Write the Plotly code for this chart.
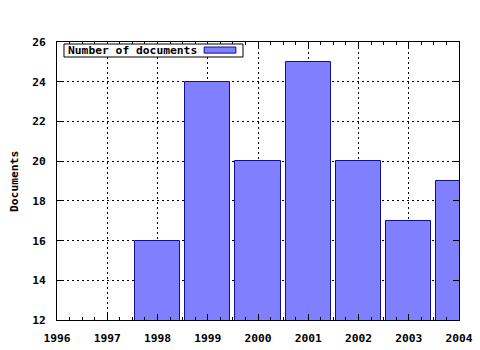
import plotly.graph_objects as go

years = [1998, 1999, 2000, 2001, 2002, 2003, 2004]
documents = [16, 24, 20, 25, 20, 17, 19]
x_ticks = [1996, 1997, 1998, 1999, 2000, 2001, 2002, 2003, 2004]
y_ticks = [12, 14, 16, 18, 20, 22, 24, 26]

FONT = dict(family="DejaVu Sans Mono", size=11.3, color="black", weight="bold")

fig = go.Figure()
fig.add_trace(go.Bar(
    x=years, y=documents, width=0.9,
    marker=dict(color="#8080ff", line=dict(color="#10108c", width=1)),
    name="Number of documents", showlegend=False,
))

axis_common = dict(
    showline=True, linecolor="black", linewidth=1, mirror="allticks",
    ticks="inside", ticklen=6, tickcolor="black", tickwidth=1,
    showgrid=True, gridcolor="black", gridwidth=1, griddash="2px,3px",
    zeroline=False, tickfont=FONT, automargin=False,
)

fig.update_xaxes(range=[1996, 2004], tickvals=x_ticks, ticktext=[str(v) for v in x_ticks],
                 ticklabelstandoff=7,
                 minor=dict(ticks="inside", ticklen=3, dtick=0.25, tick0=1996,
                            tickcolor="black", showgrid=False),
                 **axis_common)
fig.update_yaxes(range=[12, 26], tickvals=y_ticks, ticktext=[str(v) for v in y_ticks],
                 ticklabelstandoff=8, **axis_common)

# y-axis title
fig.add_annotation(xref="paper", yref="paper", x=-0.107, y=0.5, xanchor="center", yanchor="middle",
                   text="Documents", textangle=-90, showarrow=False, font=FONT)

# gnuplot-style key: opaque box, text on the left, sample box on the right
fig.add_shape(type="rect", xref="paper", yref="paper", x0=0.0174, x1=0.4627, y0=0.946, y1=0.9928,
              fillcolor="white", line=dict(color="black", width=1), layer="above")
fig.add_shape(type="rect", xref="paper", yref="paper", x0=0.366, x1=0.445, y0=0.960, y1=0.982,
              fillcolor="#8080ff", line=dict(color="#10108c", width=1), layer="above")
fig.add_annotation(xref="paper", yref="paper", x=0.022, y=0.970, xanchor="left", yanchor="middle",
                   text="Number of documents", showarrow=False, font=FONT)

fig.update_layout(
    width=480, height=350,
    margin=dict(l=57, r=21, t=42, b=30),
    paper_bgcolor="white", plot_bgcolor="white",
    bargap=0, font=FONT,
)
fig.write_html("out.html")
